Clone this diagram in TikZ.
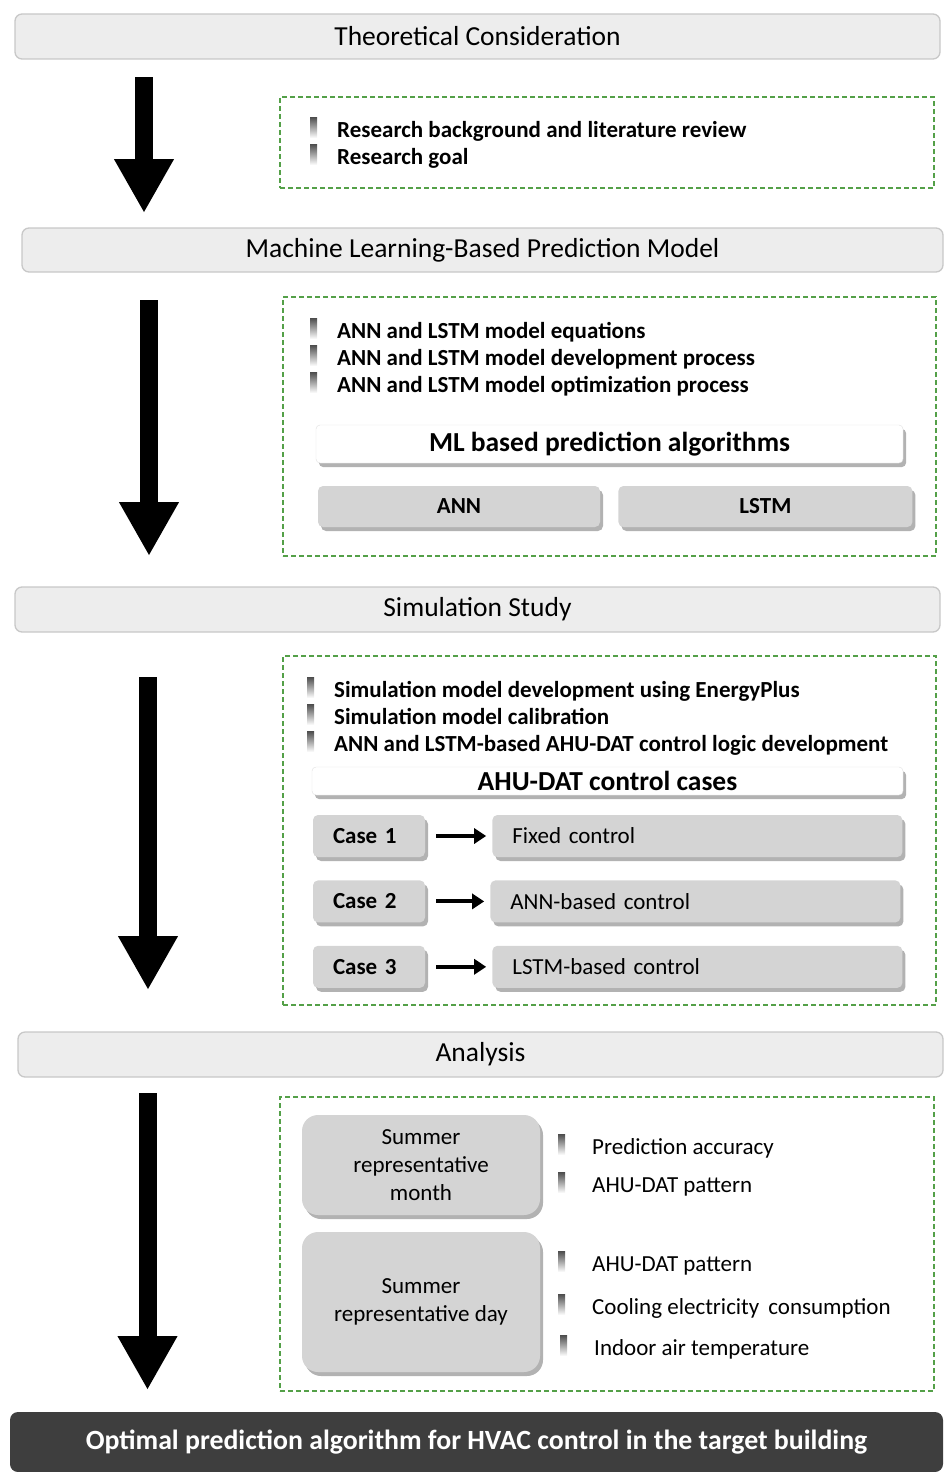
\documentclass[tikz,border=0pt]{standalone}
\usepackage{fontspec}
\setmainfont{Carlito}
\usetikzlibrary{arrows.meta,positioning,shadows,calc}
\definecolor{barfill}{RGB}{237,237,237}
\definecolor{barline}{RGB}{200,200,200}
\definecolor{boxgray}{RGB}{212,212,212}
\definecolor{dashgreen}{RGB}{84,160,72}
\definecolor{darkbar}{RGB}{62,62,62}
\newcommand{\bulletmark}[2]{\shade[top color=black!70, bottom color=white] ($(#1.base west)+(#2,-20)$) rectangle ++(7,21);}

\begin{document}
\begin{tikzpicture}[
    x=1pt, y=-1pt,
    stage/.style={rectangle, rounded corners=7pt, draw=barline, line width=1.3pt, fill=barfill, font=\fontsize{27.5}{32}\selectfont, minimum height=45pt},
    group/.style={rectangle, draw=dashgreen, line width=1.2pt, dash pattern=on 5pt off 3pt},
    bulletline/.style={anchor=base west, inner sep=0pt, font=\bfseries\fontsize{23}{27}\selectfont},
    plainline/.style={anchor=base west, inner sep=0pt, font=\fontsize{23}{27}\selectfont},
    softshadow/.style={drop shadow={shadow xshift=3pt, shadow yshift=-4pt, opacity=0.55, fill=black!55}},
    titlebox/.style={rectangle, rounded corners=4pt, draw=black!12, fill=white, inner sep=0pt, font=\bfseries\fontsize{27.5}{32}\selectfont, softshadow},
    algo/.style={rectangle, rounded corners=5pt, fill=boxgray, inner sep=0pt, font=\bfseries\fontsize{23}{27}\selectfont, softshadow},
    casebox/.style={algo, text width=72pt, align=left, inner xsep=20pt, minimum height=42pt},
    ctrlbox/.style={algo, font=\fontsize{23}{27}\selectfont, text width=370pt, align=left, inner xsep=20pt, minimum height=42pt},
    periodbox/.style={algo, rounded corners=16pt, font=\fontsize{23}{28}\selectfont, align=center, minimum width=238pt},
    endbar/.style={rectangle, rounded corners=8pt, fill=darkbar, text=white, font=\bfseries\fontsize{27.8}{32}\selectfont},
    stagearrow/.style={line width=18pt, -{Triangle[length=54pt,width=56pt]}},
    caseto/.style={line width=4pt, -{Triangle[length=12pt,width=15pt]}, shorten <=11pt, shorten >=6pt}
  ]
    \useasboundingbox (0,0) rectangle (943,1472);

    % stages
    \node[stage, minimum width=925pt] (theory) at (477.5,36.5) {Theoretical Consideration};
    \node[stage, minimum width=921pt, minimum height=44pt] (mlmodel) at (482.5,250) {Machine Learning-Based Prediction Model};
    \node[stage, minimum width=925pt] (simstudy) at (477.5,609.5) {Simulation Study};
    \node[stage, minimum width=925pt] (analysis) at (480.5,1054.5) {Analysis};
    \node[endbar, minimum width=933pt, minimum height=60pt] (optimal) at (476.5,1442) {Optimal prediction algorithm for HVAC control in the target building};

    % dashed groups
    \node[group, minimum width=654pt, minimum height=91pt] (g1) at (607,142.5) {};
    \node[group, minimum width=653pt, minimum height=259pt] (g2) at (609.5,426.5) {};
    \node[group, minimum width=653pt, minimum height=349pt] (g3) at (609.5,830.5) {};
    \node[group, minimum width=654pt, minimum height=294pt] (g4) at (607,1244) {};

    % theoretical consideration
    \node[bulletline] (bg) at (337,137) {Research background and literature review};
    \node[bulletline] (goal) at (337,164) {Research goal};
    \bulletmark{bg}{-27}
    \bulletmark{goal}{-27}

    % prediction model
    \node[bulletline] (eqs) at (337,338) {ANN and LSTM model equations};
    \node[bulletline] (dev) at (337,365) {ANN and LSTM model development process};
    \node[bulletline] (opt) at (337,392) {ANN and LSTM model optimization process};
    \foreach \n in {eqs,dev,opt} {\bulletmark{\n}{-27}}
    \node[titlebox, minimum width=587pt, minimum height=38pt] (mltitle) at (609.5,444) {ML based prediction algorithms};
    \node[algo, minimum width=282pt, minimum height=41pt] (ann) at (459,506.5) {ANN};
    \node[algo, minimum width=294pt, minimum height=41pt, right=18pt of ann] (lstm) {LSTM};

    % simulation
    \node[bulletline] (eplus) at (334,697) {Simulation model development using EnergyPlus};
    \node[bulletline] (calib) at (334,724) {Simulation model calibration};
    \node[bulletline] (logic) at (334,751) {ANN and LSTM-based AHU-DAT control logic development};
    \foreach \n in {eplus,calib,logic} {\bulletmark{\n}{-27}}
    \node[titlebox, minimum width=591pt, minimum height=28pt] (casetitle) at (607.5,781) {AHU-DAT control cases};
    \node[casebox] (case1) at (369,836) {Case 1};
    \node[casebox, below=23pt of case1] (case2) {Case 2};
    \node[casebox, below=23pt of case2] (case3) {Case 3};
    \node[ctrlbox, right=67pt of case1] (fixed) {Fixed control};
    \node[ctrlbox, right=65pt of case2] (annctrl) {ANN-based control};
    \node[ctrlbox, right=67pt of case3] (lstmctrl) {LSTM-based control};
    \draw[caseto] (case1) -- (fixed);
    \draw[caseto] (case2) -- (annctrl);
    \draw[caseto] (case3) -- (lstmctrl);

    % analysis
    \node[periodbox, minimum height=100pt] (month) at (421,1165) {Summer\\representative\\month};
    \node[periodbox, minimum height=140pt] (day) at (421,1302) {Summer\\representative day};
    \node[plainline] (acc) at (592,1154) {Prediction accuracy};
    \node[plainline] (patm) at (592,1192) {AHU-DAT pattern};
    \node[plainline] (patd) at (592,1271) {AHU-DAT pattern};
    \node[plainline] (cool) at (592,1314) {Cooling electricity\, consumption};
    \node[plainline] (indoor) at (594,1355) {Indoor air temperature};
    \foreach \n in {acc,patm,patd,cool,indoor} {\bulletmark{\n}{-34}}

    % stage arrows
    \coordinate (s1) at (144,77);   \coordinate (e1) at (144,213);
    \coordinate (s2) at (149,300);  \coordinate (e2) at (149,556);
    \coordinate (s3) at (148,677);  \coordinate (e3) at (148,990);
    \coordinate (s4) at (147.5,1093); \coordinate (e4) at (147.5,1390);
    \foreach \i in {1,...,4} {\draw[stagearrow] (s\i) -- (e\i);}
\end{tikzpicture}
\end{document}
